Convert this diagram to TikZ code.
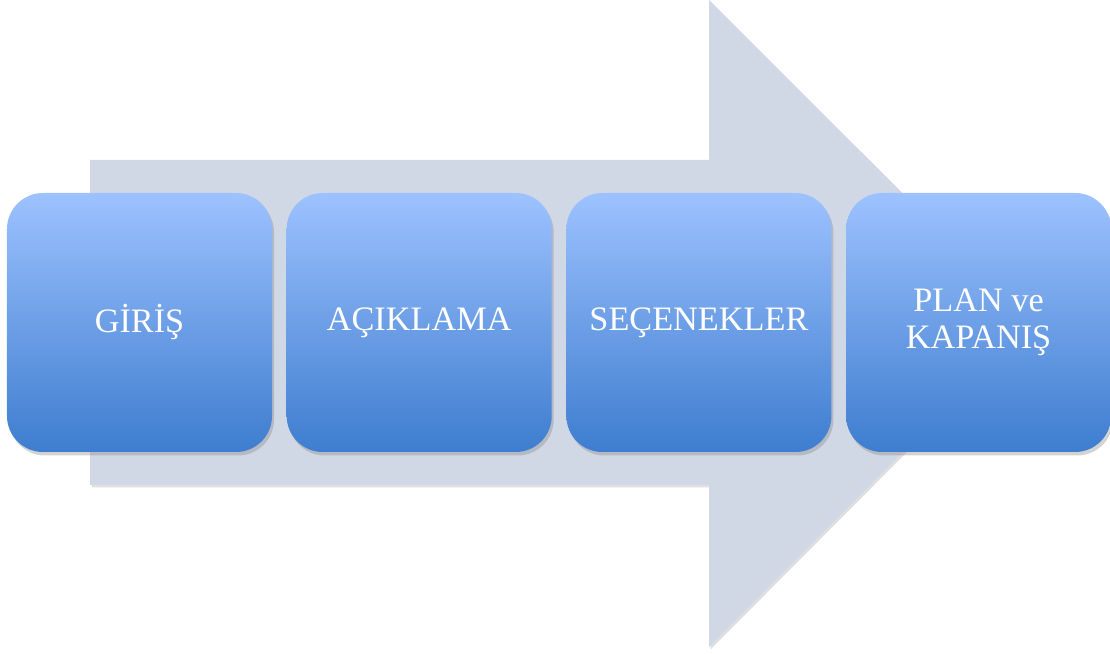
\documentclass[tikz,border=0pt]{standalone}
\usepackage{fontspec}
\setmainfont{Liberation Serif}
\usepackage{tikz}
\usetikzlibrary{positioning,shadows}
\definecolor{arrowgray}{RGB}{208,216,230}
\definecolor{boxtop}{RGB}{157,194,255}
\definecolor{boxbottom}{RGB}{62,125,207}
\tikzset{
    stepbox/.style={rounded corners=0.72cm,minimum width=5.3cm,minimum height=5.18cm,
        top color=boxtop,bottom color=boxbottom,text=white,align=center,inner sep=0pt,
        font=\fontsize{19.5}{21}\selectfont,
        drop shadow={opacity=0.35,shadow xshift=0.04cm,shadow yshift=-0.07cm}}
}

\begin{document}
\begin{tikzpicture}
        \useasboundingbox (0,0) rectangle (22.2,13.08);
        % Background arrow
        \fill[arrowgray,drop shadow={opacity=0.25,shadow xshift=0.03cm,shadow yshift=-0.05cm}]
            (1.8,3.38)--(1.8,9.88)--(14.18,9.88)--(14.18,13.08)--(20.64,6.63)--(14.18,0.14)--(14.18,3.38)--cycle;
        % Steps
        \node[stepbox](giris) at (2.79,6.63){GİRİŞ};
        \node[stepbox,right=0.28cm of giris](aciklama){AÇIKLAMA};
        \node[stepbox,right=0.28cm of aciklama](secenekler){SEÇENEKLER};
        \node[stepbox,right=0.28cm of secenekler](plan){PLAN ve\\KAPANIŞ};
    \end{tikzpicture}
\end{document}
